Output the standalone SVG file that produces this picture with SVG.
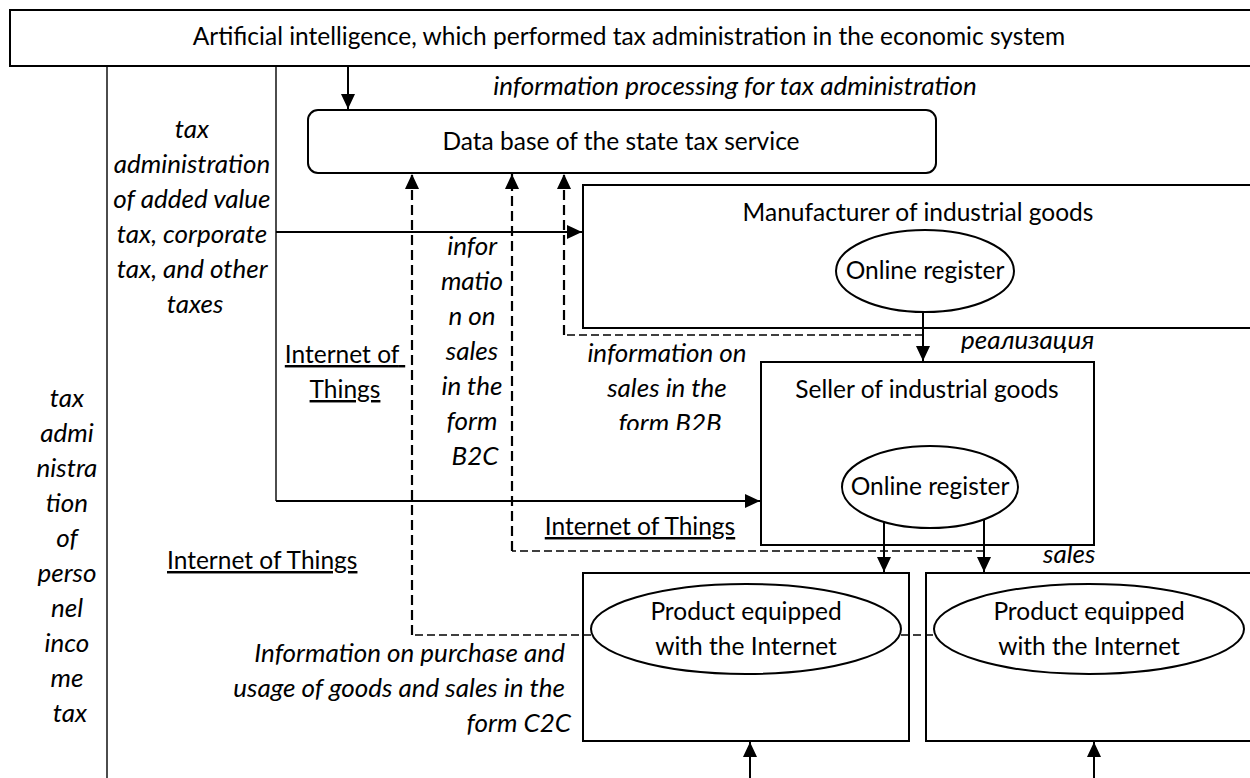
<svg xmlns="http://www.w3.org/2000/svg" width="1250" height="778" viewBox="0 0 1250 778">
  <defs>
    <style>
      .box { fill: #fff; stroke: #000; stroke-width: 2; }
      .thin { fill: none; stroke: #000; stroke-width: 1.4; }
      .solid { fill: none; stroke: #000; stroke-width: 2; }
      .dashv { fill: none; stroke: #000; stroke-width: 2.2; stroke-dasharray: 10 5; }
      .dashh { fill: none; stroke: #000; stroke-width: 1.5; stroke-dasharray: 8 4; }
      text { font-family: Lato, "Open Sans", sans-serif; font-size: 24.5px; fill: #000; }
      .c { text-anchor: middle; }
      .r { text-anchor: end; }
      .i { font-style: italic; font-size: 26px; }
      .u { text-decoration: underline; }
    </style>
    <marker id="arrow" viewBox="0 0 15 14" refX="15" refY="7" markerWidth="15" markerHeight="14" markerUnits="userSpaceOnUse" orient="auto">
      <path d="M0,0 L15,7 L0,14 z" fill="#000"/>
    </marker>
    <clipPath id="b2bClip">
      <rect x="560" y="340" width="200" height="90"/>
    </clipPath>
  </defs>

  <!-- frame line of the personal income tax column -->
  <g id="frame">
    <line class="thin" x1="107" y1="66" x2="107" y2="778"/>
  </g>

  <g id="ai">
    <rect class="box" x="10" y="10" width="1260" height="56"/>
    <text class="c" x="629" y="45">Artificial intelligence, which performed tax administration in the economic system</text>
  </g>

  <g id="database">
    <rect class="box" x="308" y="110" width="628" height="63" rx="10"/>
    <text class="c" x="621" y="150">Data base of the state tax service</text>
  </g>

  <g id="manufacturer">
    <rect class="box" x="583" y="185" width="690" height="143"/>
    <text class="c" x="918" y="221">Manufacturer of industrial goods</text>
    <ellipse class="box" cx="925" cy="271" rx="89" ry="41"/>
    <text class="c" x="925" y="279">Online register</text>
  </g>

  <g id="seller">
    <rect class="box" x="761" y="362" width="333" height="183"/>
    <text class="c" x="927" y="398">Seller of industrial goods</text>
    <ellipse class="box" cx="930" cy="487" rx="88" ry="41"/>
    <text class="c" x="930" y="495">Online register</text>
  </g>

  <g id="product-1">
    <rect class="box" x="583" y="573" width="326" height="168"/>
    <ellipse class="box" cx="746" cy="629" rx="155" ry="45"/>
    <text class="c" x="746" y="620">Product equipped</text>
    <text class="c" x="746" y="655">with the Internet</text>
  </g>

  <g id="product-2">
    <rect class="box" x="926" y="573" width="340" height="168"/>
    <ellipse class="box" cx="1089" cy="629" rx="155" ry="45"/>
    <text class="c" x="1089" y="620">Product equipped</text>
    <text class="c" x="1089" y="655">with the Internet</text>
  </g>

  <g id="connectors">
    <!-- control flows from the AI -->
    <path class="solid" d="M348,66 V109" marker-end="url(#arrow)"/>
    <path class="thin" d="M276,66 V501"/>
    <path class="solid" d="M276,232 H582" marker-end="url(#arrow)"/>
    <path class="solid" d="M276,501 H760" marker-end="url(#arrow)"/>
    <!-- goods flows -->
    <path class="solid" d="M923,312 V361" marker-end="url(#arrow)"/>
    <path class="solid" d="M884,522 V572" marker-end="url(#arrow)"/>
    <path class="solid" d="M984,519 V572" marker-end="url(#arrow)"/>
    <path class="solid" d="M750,778 V742" marker-end="url(#arrow)"/>
    <path class="solid" d="M1094,778 V742" marker-end="url(#arrow)"/>
    <!-- information flows to the database -->
    <path class="dashh" d="M591,635 H412"/>
    <path class="dashh" d="M901,635 H934"/>
    <path class="dashv" d="M412,635 V174" marker-end="url(#arrow)"/>
    <path class="dashh" d="M984,551 H512"/>
    <path class="dashv" d="M512,551 V174" marker-end="url(#arrow)"/>
    <path class="dashh" d="M923,335 H564"/>
    <path class="dashv" d="M564,335 V174" marker-end="url(#arrow)"/>
  </g>

  <g id="labels">
    <text class="c i" x="735" y="95">information processing for tax administration</text>

    <text class="c i">
      <tspan x="195" y="138">tax</tspan>
      <tspan x="195" y="173">administration</tspan>
      <tspan x="195" y="208">of added value</tspan>
      <tspan x="195" y="243">tax, corporate</tspan>
      <tspan x="195" y="278">tax, and other</tspan>
      <tspan x="195" y="313">taxes</tspan>
    </text>

    <text class="c i">
      <tspan x="70" y="407">tax</tspan>
      <tspan x="70" y="442">admi</tspan>
      <tspan x="70" y="477">nistra</tspan>
      <tspan x="70" y="512">tion</tspan>
      <tspan x="70" y="547">of</tspan>
      <tspan x="70" y="582">perso</tspan>
      <tspan x="70" y="617">nel</tspan>
      <tspan x="70" y="652">inco</tspan>
      <tspan x="70" y="687">me</tspan>
      <tspan x="70" y="722">tax</tspan>
    </text>

    <text class="c u">
      <tspan x="345" y="363">Internet of</tspan>
      <tspan x="345" y="398">Things</tspan>
    </text>
    <text class="u" x="167" y="569">Internet of Things</text>
    <text class="c u" x="640" y="535">Internet of Things</text>

    <text class="c i">
      <tspan x="475" y="255">infor</tspan>
      <tspan x="475" y="290">matio</tspan>
      <tspan x="475" y="325">n on</tspan>
      <tspan x="475" y="360">sales</tspan>
      <tspan x="475" y="395">in the</tspan>
      <tspan x="475" y="430">form</tspan>
      <tspan x="475" y="465">B2C</tspan>
    </text>

    <text class="c i" clip-path="url(#b2bClip)">
      <tspan x="670" y="362">information on</tspan>
      <tspan x="670" y="397">sales in the</tspan>
      <tspan x="670" y="432">form B2B</tspan>
    </text>

    <text class="i" x="961" y="349">реализация</text>
    <text class="i" x="1043" y="563">sales</text>

    <text class="r i">
      <tspan x="571" y="662">Information on purchase and</tspan>
      <tspan x="571" y="697">usage of goods and sales in the</tspan>
      <tspan x="571" y="732">form C2C</tspan>
    </text>
  </g>
</svg>
